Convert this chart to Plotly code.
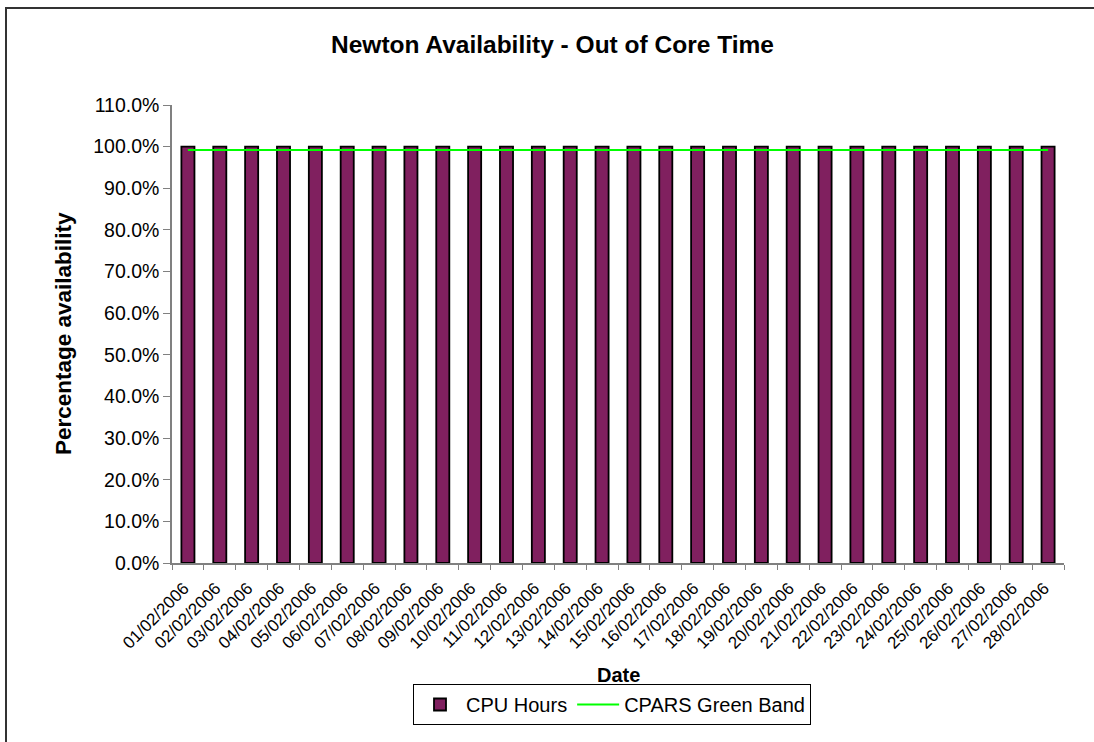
import plotly.graph_objects as go

dates = [f"{d:02d}/02/2006" for d in range(1, 29)]
cpu_hours = [100.0] * 28
green_band = [99.2] * 28
y_ticks = [0, 10, 20, 30, 40, 50, 60, 70, 80, 90, 100, 110]
y_tick_labels = [f"{v:.1f}%" for v in y_ticks]

W, H = 1094, 742
L, R, T, B = 172, 30, 105, 179
pw = W - L - R
ph = H - T - B

def px_x(p):
    return (p - L) / pw

def px_y(p):
    return (H - B - p) / ph

FONT = "Liberation Sans, Arial, sans-serif"

fig = go.Figure()
fig.add_trace(go.Bar(
    x=dates, y=cpu_hours, name="CPU Hours",
    marker=dict(color="#80205f", line=dict(color="#000000", width=1.8)),
))
fig.add_trace(go.Scatter(
    x=dates, y=green_band, name="CPARS Green Band", mode="lines",
    line=dict(color="#00ff00", width=2),
))

fig.update_layout(
    width=W, height=H,
    margin=dict(l=L, r=R, t=T, b=B),
    paper_bgcolor="white", plot_bgcolor="white",
    font=dict(family=FONT, color="black"),
    bargap=0.59,
    showlegend=True,
    legend=dict(
        orientation="h", x=px_x(612), xanchor="center",
        y=px_y(684), yanchor="top",
        bordercolor="black", borderwidth=1,
        font=dict(size=20), itemwidth=42,
        traceorder="normal", tracegroupgap=0,
    ),
    xaxis=dict(
        type="category", showline=True, linecolor="#808080", linewidth=1.5,
        ticks="outside", ticklen=5, tickcolor="#808080",
        tickson="boundaries", tickangle=-45,
        ticklabelstandoff=7, ticklabelshift=-4,
        tickfont=dict(size=17), showgrid=False, zeroline=False,
        range=[-0.5, 27.5],
    ),
    yaxis=dict(
        range=[0, 110], tickvals=y_ticks, ticktext=y_tick_labels,
        showline=True, linecolor="#808080", linewidth=1.5,
        ticks="outside", ticklen=7, tickcolor="#808080",
        tickfont=dict(size=19.5), showgrid=False, zeroline=False,
    ),
    shapes=[dict(
        type="rect", xref="paper", yref="paper",
        x0=px_x(6), x1=px_x(1110), y0=px_y(760), y1=px_y(8),
        line=dict(color="#333333", width=2), fillcolor="rgba(0,0,0,0)",
        layer="below",
    )],
    annotations=[
        dict(text="<b>Newton Availability - Out of Core Time</b>",
             xref="paper", yref="paper", x=px_x(552), y=px_y(45),
             xanchor="center", yanchor="middle", showarrow=False,
             font=dict(size=24.5)),
        dict(text="<b>Percentage availability</b>",
             xref="paper", yref="paper", x=px_x(63), y=px_y(334),
             xanchor="center", yanchor="middle", showarrow=False,
             textangle=-90, font=dict(size=22.5)),
        dict(text="<b>Date</b>",
             xref="paper", yref="paper", x=px_x(618), y=px_y(675),
             xanchor="center", yanchor="middle", showarrow=False,
             font=dict(size=20)),
    ],
)

fig.write_html("out.html", config={"displayModeBar": False},
               post_script="document.body.style.margin='0px';")
